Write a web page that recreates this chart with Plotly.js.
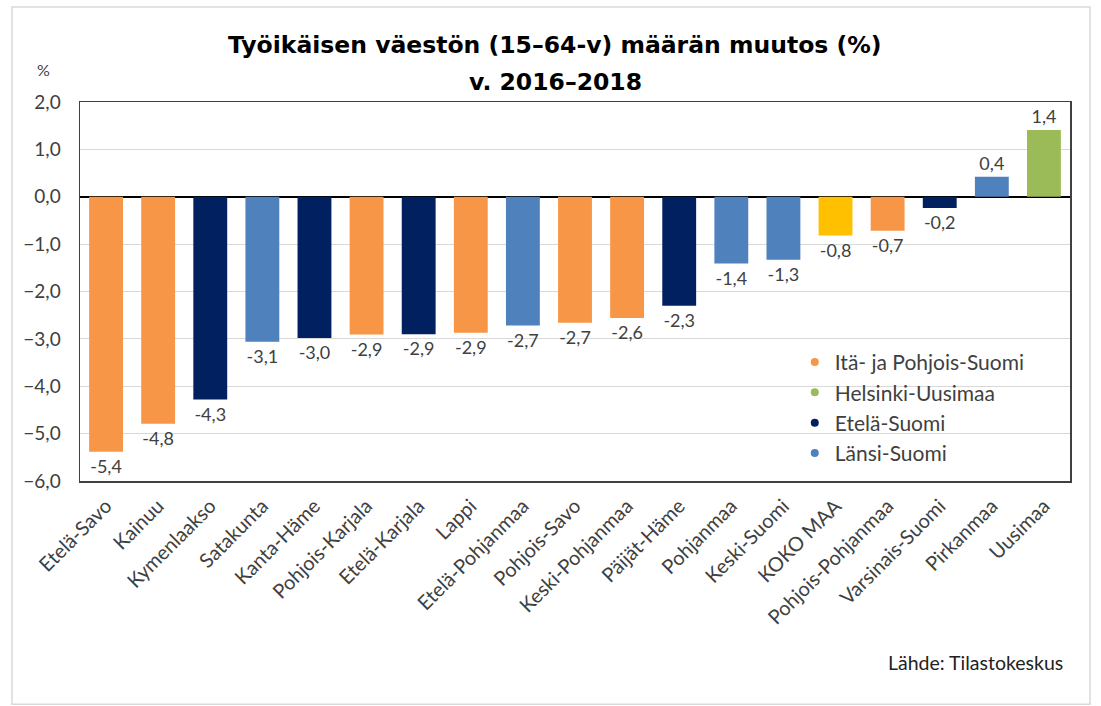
<!DOCTYPE html>
<html>
<head>
<meta charset="utf-8">
<script src="https://cdn.plot.ly/plotly-3.0.1.min.js"></script>
<style>html,body{margin:0;padding:0;background:#fff}#chart{width:1101px;height:706px}</style>
</head>
<body>
<div id="chart"></div>
<script>
const regions = ["Etelä-Savo","Kainuu","Kymenlaakso","Satakunta","Kanta-Häme","Pohjois-Karjala","Etelä-Karjala","Lappi","Etelä-Pohjanmaa","Pohjois-Savo","Keski-Pohjanmaa","Päijät-Häme","Pohjanmaa","Keski-Suomi","KOKO MAA","Pohjois-Pohjanmaa","Varsinais-Suomi","Pirkanmaa","Uusimaa"];
const changes = [-5.38,-4.79,-4.28,-3.06,-2.98,-2.91,-2.9,-2.87,-2.72,-2.66,-2.56,-2.3,-1.41,-1.33,-0.82,-0.72,-0.24,0.42,1.41];
const groups = ["IP","IP","E","L","E","IP","E","IP","L","IP","IP","E","L","L","K","IP","E","L","H"];
const groupNames = {IP:"Itä- ja Pohjois-Suomi", H:"Helsinki-Uusimaa", E:"Etelä-Suomi", L:"Länsi-Suomi"};
const groupColors = {IP:"#F79646", H:"#9BBB59", E:"#002060", L:"#4F81BD", K:"#FFC000"};
const legendOrder = ["IP","H","E","L"];
const titleLines = ["Työikäisen väestön (15–64-v) määrän muutos (%)", "v. 2016–2018"];
const sourceText = "Lähde: Tilastokeskus";
const yTicks = [2,1,0,-1,-2,-3,-4,-5,-6];

const font = "Lato, 'Open Sans', sans-serif";
const titleFont = {family: "'Liberation Sans Narrow', 'DejaVu Sans', sans-serif", size: 23.5, weight: "bold", color: "#000"};

const traces = [{
  type: "bar",
  x: regions,
  y: changes,
  marker: {color: groups.map(g => groupColors[g])},
  texttemplate: "%{y:.1f}",
  textposition: "outside",
  cliponaxis: false,
  textfont: {family: font, size: 18, color: "#404040"},
  showlegend: false,
  hoverinfo: "x+y"
}];
legendOrder.forEach((g, i) => {
  traces.push({
    type: "scatter", mode: "markers",
    x: [null], y: [null],
    name: groupNames[g],
    legendgroup: g,
    marker: {color: groupColors[g], size: 8, symbol: "circle"}
  });
});

const layout = {
  width: 1101, height: 706,
  margin: {l: 80, r: 31, t: 102, b: 225},
  paper_bgcolor: "#fff", plot_bgcolor: "#fff",
  separators: ",.",
  font: {family: font, size: 16, color: "#404040"},
  bargap: 0.35,
  showlegend: true,
  legend: {
    x: 0.722, y: 0.367, xanchor: "left", yanchor: "top",
    bgcolor: "rgba(0,0,0,0)",
    font: {family: font, size: 21, color: "#404040"},
    itemwidth: 30, tracegroupgap: 0
  },
  xaxis: {
    type: "category",
    tickangle: -45,
    tickfont: {family: font, size: 20, color: "#404040"},
    showgrid: false,
    showline: true, linecolor: "#404040", linewidth: 1.5, mirror: true,
    ticks: "", ticklabelstandoff: 4
  },
  yaxis: {
    range: [-6, 2],
    tickvals: yTicks,
    tickformat: ".1f",
    tickfont: {family: font, size: 19, color: "#404040"},
    showgrid: true, gridcolor: "#d9d9d9", gridwidth: 1,
    zeroline: true, zerolinecolor: "#000", zerolinewidth: 1.5,
    showline: true, linecolor: "#404040", linewidth: 1.5, mirror: true,
    ticks: "", ticklabelstandoff: 14
  },
  annotations: [
    {text: titleLines[0], xref: "paper", yref: "paper", x: 0.48, y: 1.1504, xanchor: "center", yanchor: "middle", showarrow: false, font: titleFont},
    {text: titleLines[1], xref: "paper", yref: "paper", x: 0.48, y: 1.0528, xanchor: "center", yanchor: "middle", showarrow: false, font: titleFont},
    {text: "%", xref: "paper", yref: "paper", x: -0.037, y: 1.085, xanchor: "center", yanchor: "middle", showarrow: false, font: {family: font, size: 16, color: "#404040"}},
    {text: sourceText, xref: "paper", yref: "paper", x: 0.995, y: -0.48, xanchor: "right", yanchor: "middle", showarrow: false, font: {family: font, size: 19.5, color: "#222"}}
  ],
  shapes: [
    {type: "rect", xref: "paper", yref: "paper", x0: -0.0687, x1: 1.0202, y0: -0.589, y1: 1.2507, line: {color: "#d9d9d9", width: 1.5}, layer: "below"}
  ]
};

Plotly.newPlot("chart", traces, layout, {displayModeBar: false, staticPlot: true});
</script>
</body>
</html>
